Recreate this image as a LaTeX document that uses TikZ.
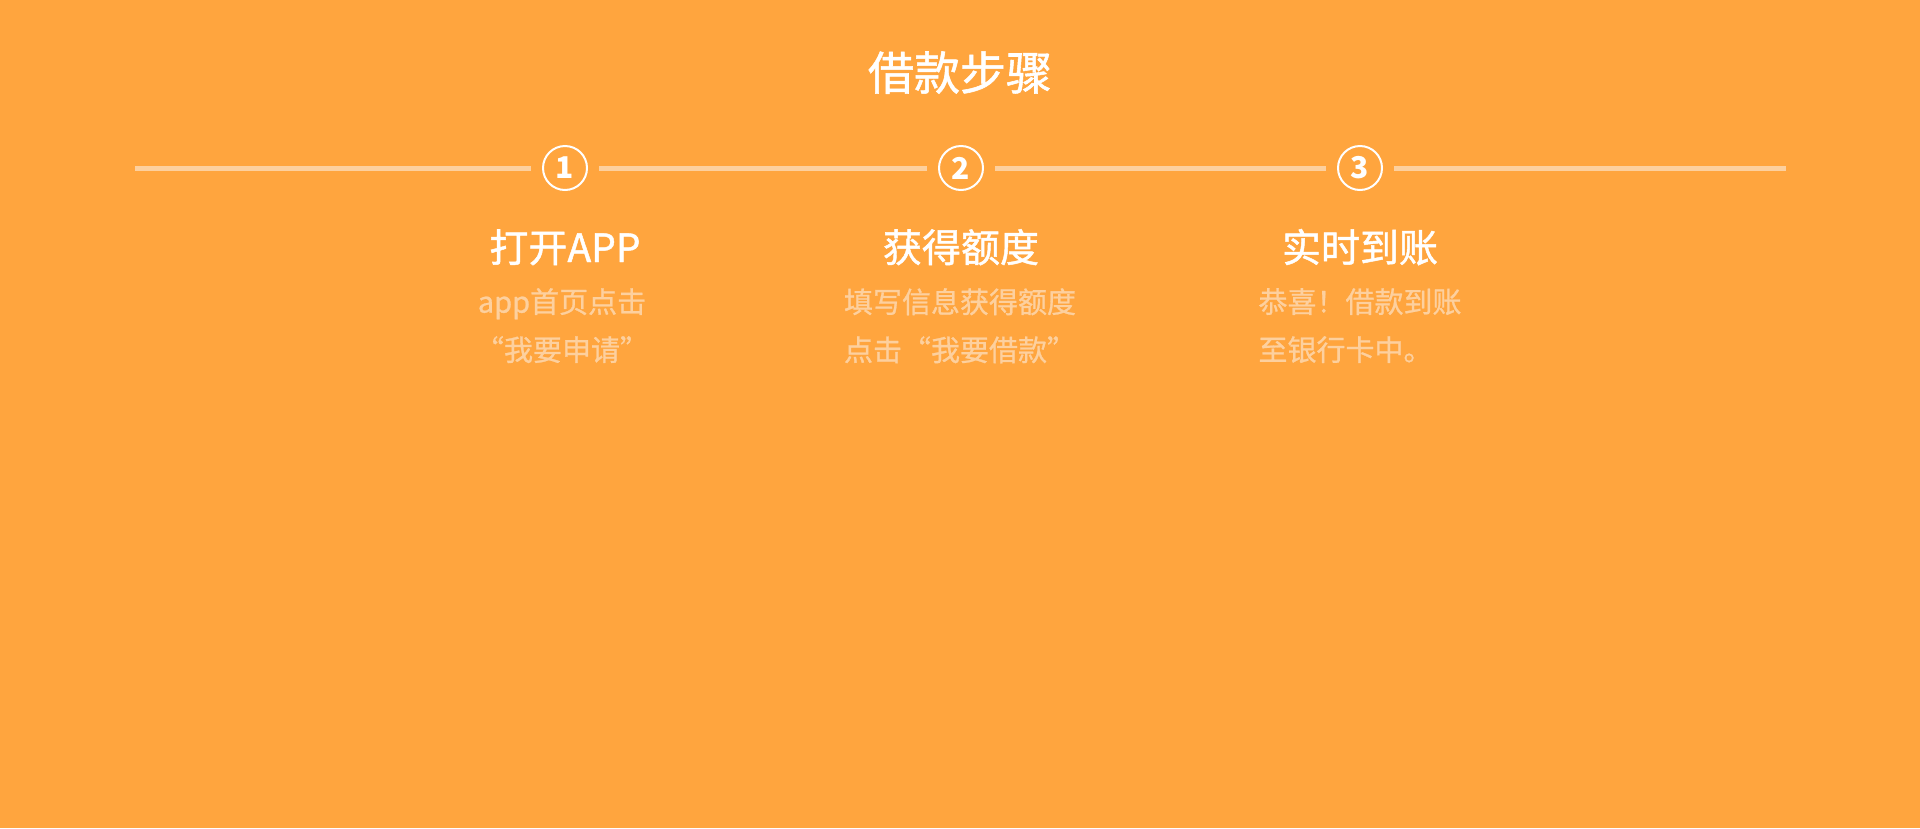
\documentclass[tikz,border=0pt]{standalone}
\usepackage{fontspec}
\setmainfont{Noto Sans CJK SC}
\newfontfamily\medfont[FakeBold=1.2]{Noto Sans CJK SC}
\newfontfamily\descfont[FakeBold=0.9]{Noto Sans CJK SC}
\usetikzlibrary{positioning}
\definecolor{LoanOrange}{HTML}{FFA53E}
\definecolor{LoanPeach}{HTML}{FDD09E}
\definecolor{LoanWhite}{HTML}{FFFFFF}
\tikzset{
    % Title styles
    maintitle/.style={
        anchor=base,
        text=LoanWhite,
        font=\medfont\fontsize{46}{52}\selectfont
    },
    steptitle/.style={
        anchor=base,
        text=LoanWhite,
        font=\medfont\fontsize{39}{46}\selectfont
    },
    stepdesc/.style={
        anchor=north,
        inner sep=0pt,
        text=LoanPeach,
        font=\descfont\fontsize{29}{48}\selectfont
    },
    % Step marker styles
    stepcircle/.style={
        circle,
        draw=LoanWhite,
        line width=2pt,
        minimum size=44pt,
        inner sep=0pt,
        outer sep=12pt,
        text=LoanWhite,
        font=\fontsize{30}{30}\selectfont\bfseries
    },
    % Line style
    stepline/.style={
        draw=LoanPeach,
        line width=5pt
    }
}
\begin{document}
\begin{tikzpicture}[x=1pt,y=-1pt]
    % Background
    \fill[LoanOrange] (0,0) rectangle (1920,828);
    \useasboundingbox (0,0) rectangle (1920,828);

    % Heading
    \node[maintitle] (head) at (960,90) {借款步骤};

    % Step markers
    \coordinate (lstart) at (135,168);
    \coordinate (lend) at (1786,168);
    \node[stepcircle] (c1) at (565,168) {1};
    \node[stepcircle] (c2) at (961,168) {2};
    \node[stepcircle] (c3) at (1360,168) {3};

    % Lines
    \draw[stepline] (lstart) -- (c1);
    \draw[stepline] (c1) -- (c2);
    \draw[stepline] (c2) -- (c3);
    \draw[stepline] (c3) -- (lend);

    % Step titles
    \node[steptitle] (t1) at (565,262) {打开APP};
    \node[steptitle] (t2) at (961,262) {获得额度};
    \node[steptitle] (t3) at (1360,262) {实时到账};

    % Step descriptions
    \node[stepdesc,align=center] (d1) at (562,288) {app首页点击\\“我要申请”};
    \node[stepdesc,align=left] (d2) at (960,288) {填写信息获得额度\\点击“我要借款”};
    \node[stepdesc,align=left] (d3) at (1360,288) {恭喜！借款到账\\至银行卡中。};
\end{tikzpicture}
\end{document}
